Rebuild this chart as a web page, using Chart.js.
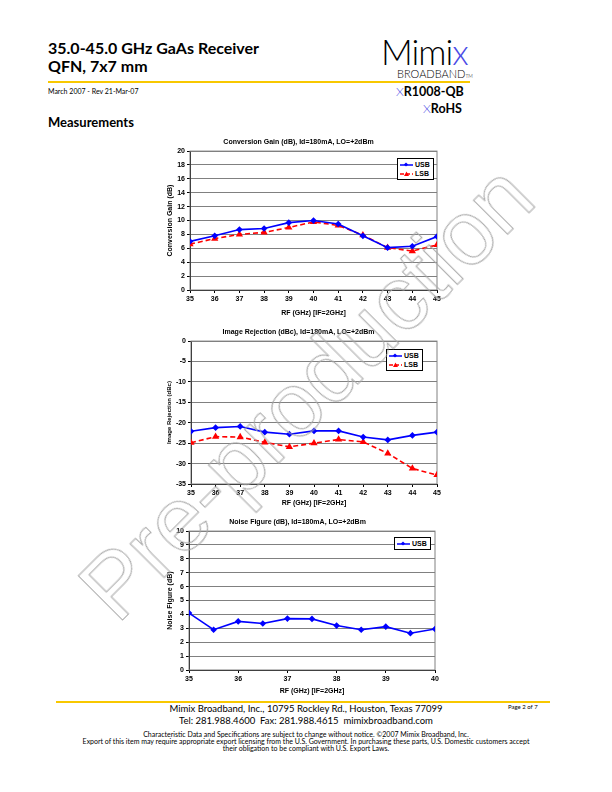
<!DOCTYPE html>
<html>
<head>
<meta charset="utf-8">
<script src="https://cdn.jsdelivr.net/npm/chart.js@4.4.1/dist/chart.umd.min.js"></script>
<style>
body { margin: 0; width: 612px; height: 792px; position: relative; background: #fff; font-family: Lato, "Open Sans", sans-serif; color: #000; overflow: hidden; }
.t { position: absolute; white-space: nowrap; line-height: 1; }
.rule { position: absolute; height: 2px; background: #f8c800; }
.chartBox { position: absolute; left: 160px; width: 290px; }
.legend { position: absolute; border: 1px solid #000; background: #fff; font: bold 7px "Liberation Sans", sans-serif; padding: 1px 3px 1px 2px; line-height: 9px; }
.legend div { display: flex; align-items: center; }
.legend svg { margin-right: 2px; }
.blue { color: #4b4be6; }
#wm { position: absolute; left: 306px; top: 392px; transform: translate(-50%, -50%) rotate(-45deg); font: 91px "Liberation Sans", sans-serif; color: transparent; -webkit-text-stroke: 1px #a8a8a8; white-space: nowrap; pointer-events: none; z-index: 10; }
</style>
</head>
<body>

<div class="t" style="left:48px;top:40px;font-size:16px;font-weight:bold;">35.0-45.0 GHz GaAs Receiver</div>
<div class="t" style="left:48px;top:58px;font-size:16px;font-weight:bold;">QFN, 7x7 mm</div>
<div class="rule" style="left:48px;top:81px;width:422px;"></div>
<div class="t" style="left:48px;top:88px;font-size:7px;">March 2007 - Rev 21-Mar-07</div>
<div class="t" style="left:48px;top:116px;font-size:13px;font-weight:bold;">Measurements</div>

<div class="t" style="left:381px;top:34px;font-size:35px;font-weight:300;letter-spacing:-1px;">Mimi<span class="blue">x</span></div>
<div class="t" style="left:397px;top:68px;font-size:11px;font-weight:300;">BROADBAND<span style="font-size:5px;">TM</span></div>
<div class="t" style="left:396px;top:86px;font-size:12.5px;font-weight:bold;"><span class="blue" style="font-weight:300;">X</span>R1008-QB</div>
<div class="t" style="left:423px;top:103px;font-size:12.5px;font-weight:bold;"><span class="blue" style="font-weight:300;">X</span>RoHS</div>

<div class="chartBox" style="top:135px;height:187px;"><canvas id="cgChart" width="290" height="187"></canvas></div>
<div class="legend" style="left:397px;top:158px;">
  <div><svg width="13" height="6"><line x1="0" y1="3" x2="13" y2="3" stroke="#0000ff" stroke-width="1.5"/><rect x="4.5" y="1" width="3" height="3" fill="#0000ff" transform="rotate(45 6 2.5)"/></svg>USB</div>
  <div><svg width="13" height="6"><line x1="0" y1="3" x2="13" y2="3" stroke="#ff0000" stroke-width="1.5" stroke-dasharray="4 2"/><polygon points="6.5,0.5 9,5 4,5" fill="#ff0000"/></svg>LSB</div>
</div>

<div class="chartBox" style="top:325px;height:187px;"><canvas id="irChart" width="290" height="187"></canvas></div>
<div class="legend" style="left:386px;top:349px;">
  <div><svg width="13" height="6"><line x1="0" y1="3" x2="13" y2="3" stroke="#0000ff" stroke-width="1.5"/><rect x="4.5" y="1" width="3" height="3" fill="#0000ff" transform="rotate(45 6 2.5)"/></svg>USB</div>
  <div><svg width="13" height="6"><line x1="0" y1="3" x2="13" y2="3" stroke="#ff0000" stroke-width="1.5" stroke-dasharray="4 2"/><polygon points="6.5,0.5 9,5 4,5" fill="#ff0000"/></svg>LSB</div>
</div>

<div class="chartBox" style="top:515px;height:185px;"><canvas id="nfChart" width="290" height="185"></canvas></div>
<div class="legend" style="left:394px;top:537px;">
  <div><svg width="13" height="6"><line x1="0" y1="3" x2="13" y2="3" stroke="#0000ff" stroke-width="1.5"/><rect x="4.5" y="1" width="3" height="3" fill="#0000ff" transform="rotate(45 6 2.5)"/></svg>USB</div>
</div>

<div class="rule" style="left:56px;top:701px;width:494px;"></div>
<div class="t" style="left:0;width:612px;text-align:center;top:704px;font-size:9.5px;">Mimix Broadband, Inc., 10795 Rockley Rd., Houston, Texas 77099</div>
<div class="t" style="left:0;width:612px;text-align:center;top:716px;font-size:9.5px;">Tel: 281.988.4600&nbsp; Fax: 281.988.4615&nbsp; mimixbroadband.com</div>
<div class="t" style="left:508px;top:704px;font-size:6px;">Page 2 of 7</div>
<div class="t" style="left:0;width:612px;text-align:center;top:731px;font-size:7px;line-height:7px;">Characteristic Data and Specifications are subject to change without notice. ©2007 Mimix Broadband, Inc.<br>Export of this item may require appropriate export licensing from the U.S. Government. In purchasing these parts, U.S. Domestic customers accept<br>their obligation to be compliant with U.S. Export Laws.</div>

<div id="wm">Pre-production</div>

<script>
// values
const rfGHz = [35, 36, 37, 38, 39, 40, 41, 42, 43, 44, 45];
const gainUSB = [7.0, 7.8, 8.7, 8.85, 9.7, 10.0, 9.5, 7.8, 6.1, 6.3, 7.7];
const gainLSB = [6.6, 7.4, 8.0, 8.3, 9.0, 9.8, 9.3, 7.9, 6.1, 5.6, 6.5];
const rejUSB = [-22.1, -21.2, -20.9, -22.3, -22.8, -22.0, -22.0, -23.5, -24.2, -23.1, -22.3];
const rejLSB = [-24.9, -23.4, -23.5, -24.8, -25.9, -25.0, -24.1, -24.7, -27.5, -31.2, -32.8];
const nfGHz = [35, 35.5, 36, 36.5, 37, 37.5, 38, 38.5, 39, 39.5, 40];
const nfUSB = [4.1, 2.9, 3.5, 3.35, 3.7, 3.68, 3.2, 2.9, 3.12, 2.65, 2.95];

const chartFont = "'Liberation Sans', Arial, sans-serif";

// gray frame around the plot area, like the excel charts
const plotFrame = {
    id: 'plotFrame',
    beforeDatasetsDraw(chart) {
        const a = chart.chartArea;
        const ctx = chart.ctx;
        ctx.save();
        ctx.strokeStyle = '#808080';
        ctx.lineWidth = 1;
        ctx.strokeRect(a.left, a.top, a.right - a.left, a.bottom - a.top);
        ctx.restore();
    }
};

function usbSet(data) {
    return {
        label: 'USB', data: data,
        borderColor: '#0000ff', backgroundColor: '#0000ff',
        borderWidth: 1.6, pointStyle: 'rectRot', pointRadius: 2.2, tension: 0
    };
}

function lsbSet(data) {
    return {
        label: 'LSB', data: data,
        borderColor: '#ff0000', backgroundColor: '#ff0000',
        borderWidth: 1.6, borderDash: [5, 3], pointStyle: 'triangle', pointRadius: 2.6, tension: 0
    };
}

function buildChart(id, datasets, title, yTitle, y, x, sizes) {
    return new Chart(document.getElementById(id), {
        type: 'line',
        data: { datasets: datasets },
        plugins: [plotFrame],
        options: {
            responsive: false,
            animation: false,
            layout: { padding: { left: 0, right: sizes.right, top: 0, bottom: 0 } },
            plugins: {
                legend: { display: false },
                tooltip: { enabled: false },
                title: {
                    display: true, text: title, color: '#000',
                    font: { family: chartFont, size: 7, weight: 'bold', lineHeight: 1.3 },
                    padding: { top: 3, bottom: 4 }
                }
            },
            scales: {
                x: {
                    type: 'linear', min: x.min, max: x.max,
                    afterFit(scale) { scale.height = sizes.xh; },
                    ticks: { stepSize: 1, color: '#000', padding: 2, maxRotation: 0, font: { family: chartFont, size: 7, weight: 'bold' } },
                    grid: { drawOnChartArea: false, drawTicks: true, tickLength: 3, color: '#000' },
                    border: { color: '#000', width: 1 },
                    title: { display: true, text: 'RF (GHz) [IF=2GHz]', color: '#000', padding: { top: 0, bottom: 5 }, font: { family: chartFont, size: 7, weight: 'bold', lineHeight: 1.2 } }
                },
                y: {
                    min: y.min, max: y.max,
                    afterFit(scale) { scale.width = sizes.yw; },
                    ticks: { stepSize: y.step, color: '#000', padding: 2, font: { family: chartFont, size: 7, weight: 'bold' } },
                    grid: { color: '#808080', tickLength: 3, tickColor: '#000' },
                    border: { color: '#000', width: 1 },
                    title: { display: true, text: yTitle, color: '#000', padding: { top: 6, bottom: 0 }, font: { family: chartFont, size: y.tsize, weight: 'bold', lineHeight: 1.2 } }
                }
            }
        }
    });
}

const pts = (xs, ys) => xs.map((v, i) => ({ x: v, y: ys[i] }));

buildChart('cgChart', [usbSet(pts(rfGHz, gainUSB)), lsbSet(pts(rfGHz, gainLSB))],
    'Conversion Gain (dB), Id=180mA, LO=+2dBm', 'Conversion Gain (dB)',
    { min: 0, max: 20, step: 2, tsize: 7 }, { min: 35, max: 45 }, { right: 13, xh: 32, yw: 30 });

buildChart('irChart', [usbSet(pts(rfGHz, rejUSB)), lsbSet(pts(rfGHz, rejLSB))],
    'Image Rejection (dBc), Id=180mA, LO=+2dBm', 'Image Rejection (dBc)',
    { min: -35, max: 0, step: 5, tsize: 6 }, { min: 35, max: 45 }, { right: 13, xh: 28, yw: 31 });

buildChart('nfChart', [usbSet(pts(nfGHz, nfUSB))],
    'Noise Figure (dB), Id=180mA, LO=+2dBm', 'Noise Figure (dB)',
    { min: 0, max: 10, step: 1, tsize: 7 }, { min: 35, max: 40 }, { right: 15, xh: 30, yw: 29 });
</script>
</body>
</html>
